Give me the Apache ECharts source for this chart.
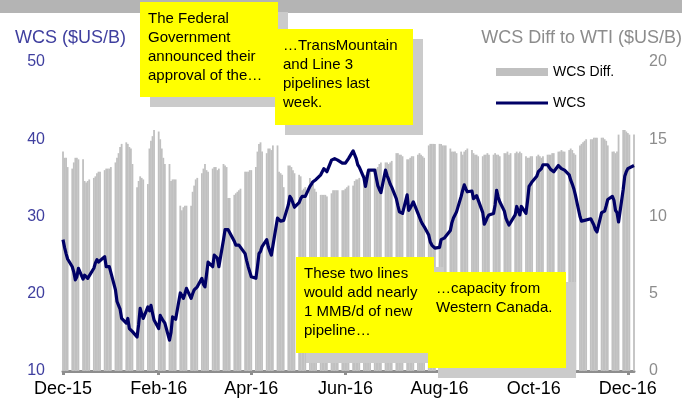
<!DOCTYPE html>
<html>
<head>
<meta charset="utf-8">
<script src="https://cdn.jsdelivr.net/npm/echarts@6/dist/echarts.min.js"></script>
<style>
  html, body { margin: 0; padding: 0; background: #fff; }
  #main { width: 682px; height: 403px; }
</style>
</head>
<body>
<div id="main"></div>
<script>
// trading days from Tue 2015-12-01 to Mon 2016-12-05, one row per week
const diffValues = [
  14.2, 13.8, 13.8, 13.2,
  13.1, 13.5, 13.8, 13.8, 13.7,
  13.7, 12.3, 12.2, 12.3, 12.4,
  12.5, 12.6, 12.8, 12.9, 12.9,
  13.0, 13.1, 13.1, 13.1, 13.2,
  13.5, 13.8, 14.1, 14.5, 14.7,
  14.8, 14.7, 14.5, 14.4, 13.4,
  11.9, 12.3, 12.6, 12.5, 12.4,
  12.1, 14.4, 14.9, 15.2, 15.6,
  15.5, 15.0, 14.4, 13.8, 13.4,
  13.4, 12.3, 12.4, 12.4, 12.4,
  10.7, 10.4, 10.6, 10.7, 10.7,
  10.7, 11.6, 12.0, 12.4, 12.5,
  12.8, 13.1, 13.4, 13.0, 12.9,
  13.1, 13.2, 13.2, 13.0, 13.1,
  13.4, 13.3, 13.2, 11.2, 11.2,
  11.4, 11.5, 11.6, 11.7, 11.8,
  12.9, 12.9, 12.9, 13.0, 13.0,
  13.2, 14.2, 14.7, 14.8, 14.2,
  14.1, 14.4, 14.4, 14.3, 14.6,
  14.6, 12.9, 12.8, 12.7, 11.9,
  13.3, 13.3, 13.2, 13.0, 12.8,
  12.7, 12.6, 11.7, 11.8, 11.9,
  12.5, 12.3, 12.1, 11.8, 11.6,
  11.4, 11.4, 11.4, 11.4, 11.3,
  11.5, 11.7, 11.7, 11.7, 11.7,
  11.7, 11.7, 11.8, 11.9, 12.0,
  12.0, 12.3, 12.4, 12.4, 12.5,
  12.6, 12.7, 12.9, 13.0, 13.0,
  13.0, 13.1, 13.2, 13.4, 13.5,
  13.5, 13.5, 13.4, 13.5, 13.6,
  14.1, 14.1, 14.0, 14.0, 13.9,
  13.7, 13.7, 13.8, 13.9, 13.9,
  14.0, 14.1, 14.0, 13.9, 13.8,
  14.6, 14.7, 14.7, 14.7, 14.7,
  14.7, 14.7, 14.6, 14.6, 14.6,
  14.4, 14.2, 14.2, 14.2, 14.1,
  14.2, 14.0, 14.2, 14.3, 14.4,
  14.3, 14.1, 14.0, 14.0, 13.9,
  13.9, 14.0, 14.0, 14.1, 14.0,
  14.0, 14.1, 14.0, 14.0, 13.9,
  14.1, 14.1, 14.2, 14.0, 14.1,
  14.1, 14.2, 14.1, 14.2, 14.1,
  13.9, 13.8, 13.8, 13.9, 13.9,
  13.9, 14.0, 13.9, 13.8, 13.9,
  14.0, 14.0, 14.0, 14.1, 14.1,
  14.2, 14.2, 14.3, 14.2, 14.2,
  14.3, 14.4, 14.3, 14.1, 14.0,
  14.6, 14.7, 14.8, 14.9, 15.0,
  15.0, 15.0, 15.1, 15.1, 15.1,
  15.1, 15.1, 15.0, 14.9, 14.6,
  14.2, 14.2, 14.1, 14.2, 15.3,
  15.6, 15.6, 15.5, 15.4, 15.3,
  15.3
];

const wcsValues = [
  27.0, 26.0, 25.2, 24.5,
  23.5, 22.8, 21.8, 22.2, 23.3,
  21.9, 22.4, 22.2, 22.0, 22.0,
  23.3, 24.0, 24.4, 24.1, 23.9,
  24.8, 23.5, 23.5, 23.5, 23.3,
  20.5, 19.0, 18.5, 18.0, 16.8,
  16.2, 16.8, 15.5, 15.3, 15.1,
  14.4, 16.0, 18.1, 17.4, 16.8,
  18.3, 17.8, 18.5, 17.5, 16.6,
  15.5, 17.2, 16.8, 16.5, 16.2,
  14.0, 15.0, 17.0, 16.8, 16.7,
  20.1, 19.8, 19.4, 20.0, 20.7,
  19.4, 20.0, 20.5, 20.6, 20.9,
  22.0, 21.2, 20.9, 22.5, 24.1,
  23.5, 25.0, 24.8, 24.6, 23.5,
  27.0, 28.3, 28.3, 28.3, 28.3,
  26.8, 26.3, 26.3, 26.3, 26.3,
  25.2, 24.3, 23.5, 23.3, 22.2,
  22.0, 23.5, 25.2, 25.5, 26.1,
  27.0, 26.1, 25.5, 25.0, 24.8,
  29.8, 29.6, 29.4, 29.2, 29.5,
  31.5, 32.6, 32.3, 32.1, 31.2,
  31.8, 32.3, 32.6, 32.5, 32.6,
  33.9, 34.2, 34.5, 34.7, 34.8,
  35.4, 35.8, 36.2, 36.3, 35.8,
  37.3, 37.4, 37.5, 37.4, 37.3,
  36.9, 36.9, 36.9, 37.1, 37.5,
  38.5, 38.6, 37.5, 36.7, 36.4,
  35.0, 33.9, 35.0, 36.0, 36.1,
  36.0, 35.0, 34.0, 33.5, 33.1,
  36.0, 35.3, 34.8, 34.2, 33.8,
  32.3, 31.4, 30.6, 30.5, 30.4,
  32.8, 30.8, 31.1, 31.5, 31.9,
  30.4, 29.9, 29.4, 29.0, 28.7,
  27.6, 26.7, 26.3, 26.1, 25.9,
  26.0, 27.0, 27.1, 27.2, 27.4,
  28.2, 29.2, 29.8, 30.2, 30.6,
  32.6, 33.4, 34.1, 33.6, 33.2,
  33.3, 32.3, 32.5, 32.7, 32.8,
  30.5, 29.0, 29.4, 29.9, 30.2,
  30.4, 31.5, 33.4, 32.5, 31.9,
  30.7, 29.8, 29.3, 28.9, 29.1,
  30.2, 31.3, 31.5, 30.2, 31.3,
  30.4, 32.0, 33.9, 34.2, 34.5,
  35.2, 35.8, 35.8, 36.2, 36.7,
  36.7, 36.4, 36.1, 35.9, 35.8,
  36.6, 36.7, 36.2, 36.0, 36.0,
  35.4, 34.7, 34.2, 33.6, 32.8,
  30.0, 29.4, 29.3, 29.5, 29.7,
  29.7, 29.5, 28.9, 28.3, 28.0,
  30.5, 30.6, 30.7, 31.4, 32.2,
  32.6, 32.1, 30.8, 30.5, 29.3,
  33.5, 35.2, 35.8, 36.2, 36.4,
  36.6
];

const monthNames = ['Jan', 'Feb', 'Mar', 'Apr', 'May', 'Jun', 'Jul', 'Aug', 'Sep', 'Oct', 'Nov', 'Dec'];
const labelMonths = [11, 1, 3, 5, 7, 9]; // Dec, Feb, Apr, Jun, Aug, Oct

const noteTexts = [
  ['The Federal', 'Government', 'announced their', 'approval of the…'],
  ['…TransMountain', 'and Line 3', 'pipelines last', 'week.'],
  ['These two lines', 'would add nearly', '1 MMB/d of new', 'pipeline…'],
  ['…capacity from', 'Western Canada.']
];

// calendar days on the axis, weekends left empty
const dates = [];
const barData = [];
const lineData = [];
let k = 0;
for (let i = 0; i < 371; i++) {
  const d = new Date(Date.UTC(2015, 11, 1 + i));
  dates.push(d);
  const wd = d.getUTCDay();
  if (wd === 0 || wd === 6) {
    barData.push(null);
    lineData.push(null);
  } else {
    barData.push(diffValues[k]);
    lineData.push(wcsValues[k]);
    k++;
  }
}
const categories = dates.map(d => d.toISOString().slice(0, 10));

function isLabelDay(index) {
  const d = dates[index];
  return d.getUTCDate() === 1 && labelMonths.includes(d.getUTCMonth());
}

const font = '"Liberation Sans", Arial, sans-serif';
const noteFont = '15px "Comic Sans MS", "Liberation Sans", sans-serif';

// yellow sticky note with a grey drop shadow
function note(x, y, h, lines, z) {
  return [
    { type: 'rect', z: z, shape: { x: x + 10, y: y + 10, width: 138, height: h }, style: { fill: '#cbcbcb' } },
    { type: 'rect', z: z + 1, shape: { x: x, y: y, width: 138, height: h }, style: { fill: '#ffff00' } },
    {
      type: 'text', z: z + 2, x: x + 8, y: y + 7,
      style: { text: lines.join('\n'), font: noteFont, fill: '#000', lineHeight: 19 }
    }
  ];
}

var myChart = echarts.init(document.getElementById('main'));
myChart.setOption({
  animation: false,
  grid: { left: 63, right: 48, top: 62, bottom: 32, outerBoundsMode: 'none' },
  legend: {
    orient: 'vertical',
    left: 496,
    top: 65,
    padding: 0,
    itemWidth: 52,
    itemHeight: 8,
    itemGap: 17,
    textStyle: { fontFamily: font, fontSize: 14, color: '#000' },
    data: [
      { name: 'WCS Diff.', icon: 'rect' },
      { name: 'WCS', icon: 'path://M0,0 L52,0 L52,3 L0,3 Z' }
    ]
  },
  xAxis: {
    type: 'category',
    data: categories,
    boundaryGap: false,
    axisLine: { lineStyle: { color: '#8e8e8e', width: 3 } },
    axisTick: { interval: isLabelDay, length: 4, lineStyle: { color: '#8e8e8e', width: 3 } },
    axisLabel: {
      interval: isLabelDay,
      margin: 9,
      fontFamily: font,
      fontSize: 18,
      color: '#000',
      formatter: (v) => {
        const d = new Date(v + 'T00:00:00Z');
        return monthNames[d.getUTCMonth()] + '-' + String(d.getUTCFullYear()).slice(2);
      }
    },
    splitLine: { show: false }
  },
  yAxis: [
    {
      type: 'value', min: 10, max: 50, interval: 10,
      axisLine: { show: false }, axisTick: { show: false }, splitLine: { show: false },
      axisLabel: { margin: 18, fontFamily: font, fontSize: 16, color: '#3f3f9f' }
    },
    {
      type: 'value', min: 0, max: 20, interval: 5,
      axisLine: { show: false }, axisTick: { show: false }, splitLine: { show: false },
      axisLabel: { margin: 15, fontFamily: font, fontSize: 16, color: '#8c8c8c' }
    }
  ],
  series: [
    {
      name: 'WCS Diff.',
      type: 'bar',
      yAxisIndex: 1,
      data: barData,
      barWidth: 1.8,
      itemStyle: { color: '#c0c0c0' },
      z: 1
    },
    {
      name: 'WCS',
      type: 'line',
      yAxisIndex: 0,
      data: lineData,
      connectNulls: true,
      symbol: 'none',
      lineStyle: { color: '#000066', width: 3.2, join: 'round' },
      itemStyle: { color: '#000066' },
      z: 3
    }
  ],
  graphic: [
    { type: 'rect', z: 10, shape: { x: 0, y: 0, width: 682, height: 13 }, style: { fill: '#b4b4b4' } },
    {
      type: 'text', z: 10, x: 15, y: 38,
      style: { text: 'WCS ($US/B)', font: '18px ' + font, fill: '#3f3f9f', verticalAlign: 'middle' }
    },
    {
      type: 'text', z: 10, x: 682, y: 38,
      style: { text: 'WCS Diff to WTI ($US/B)', font: '18px ' + font, fill: '#8c8c8c', align: 'right', verticalAlign: 'middle' }
    }
  ].concat(
    note(140, 2, 95, noteTexts[0], 20),
    note(275, 29, 96, noteTexts[1], 30),
    note(296, 257, 96, noteTexts[2], 40),
    note(428, 272, 96, noteTexts[3], 50)
  )
});
</script>
</body>
</html>
